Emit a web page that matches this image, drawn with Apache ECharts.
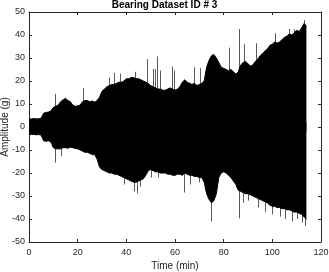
<!DOCTYPE html>
<html><head><meta charset="utf-8">
<script src="https://cdn.jsdelivr.net/npm/echarts@6/dist/echarts.min.js"></script>
<style>html,body{margin:0;padding:0;background:#fff}#c{width:329px;height:272px}</style>
</head><body><div id="c"></div>
<script>
// Time (min) of envelope readings
const times = [0,1,2,3,4,5,6,7,8,9,10,11,12,13,14,15,16,17,18,19,20,21,22,23,24,25,26,27,28,29,30,31,32,33,34,35,36,37,38,39,40,41,42,43,44,45,46,47,48,49,50,51,52,53,54,55,56,57,58,59,60,61,62,63,64,65,66,67,68,69,70,71,72,73,74,75,76,77,78,79,80,81,82,83,84,85,86,87,88,89,90,91,92,93,94,95,96,97,98,99,100,101,102,103,104,105,106,107,108,109,110,111,112,113,114];
// Upper envelope of amplitude (g)
const upper = [3.5,3.5,3.7,3.5,3.6,3.8,6,6.3,6.5,7,
  8.5,9,9.5,11,11.8,12.5,11.5,11,9.5,9,
  9.2,9.5,11,11.5,11.5,11,11.3,10.8,11.5,13,
  15.5,16.5,17.5,18,18.5,18.5,19,19.5,19.5,20,
  21,21,21.5,21.5,21,21,20.5,20,19.5,19,
  18,17.5,17,16.5,16.5,16,16,16.5,17,16.5,
  16,16.5,17.5,19.5,20.5,19.5,19,18.5,19,18,
  18.5,19,20,26,29,31,31.5,30,28,26,
  25.5,25,24.5,25,24,23,24,27,28,28.5,
  27.5,26.5,27,28.5,29.5,31,32,33,34,35.5,
  36,37,36.5,37,38,39,39.5,40.5,40,41,
  42,41.5,43,45,44];
// Lower envelope of amplitude (g)
const lower = [-3.2,-3.3,-3.2,-3.4,-3.3,-3.5,-6,-6.2,-6,-6.5,
  -9,-9.5,-9.5,-9.5,-9,-9,-9.2,-8.8,-9,-9.3,
  -9.5,-10,-10.5,-11,-11,-11.5,-12,-12,-14,-17.5,
  -18.5,-19,-19.5,-20,-20,-20.5,-20.5,-21,-21.5,-22,
  -22.5,-23,-23.5,-24,-24,-23.5,-23,-22.5,-21,-19,
  -18.5,-19,-19.5,-19.5,-20,-20,-20,-20.5,-20.5,-21,
  -21,-20.5,-20.5,-21,-20,-20.5,-21,-21,-21.5,-21.5,
  -22,-22,-24,-29,-31.5,-33,-32,-29,-22,-20,
  -19.5,-20,-21,-22,-23.5,-25,-27.5,-28,-28.5,-29,
  -29,-29.5,-30,-30.5,-31,-31.5,-32,-32.5,-33,-34,
  -34.5,-34.5,-35,-35,-35.5,-35.5,-36,-36,-36.5,-37,
  -37,-37.5,-38,-39,-40];
// Isolated peaks above the envelope
const upSpikeT = [10.5,22,33,35,37.3,43.5,48.6,51,51.9,52.8,54,58.6,59.5,67.9,70.2,82.1,86.2,88.5,93.4,101,107,109,113];
const upSpikeV = [14.4,17,21.5,23.5,23.2,24,29.5,25.2,25.2,30.7,24.6,26.3,24.6,26,25.6,34.5,42.6,36,36.4,40.8,42.6,42.5,46.5];
// Isolated peaks below the envelope
const loSpikeT = [10.5,13,39,43,44.2,45.5,50,53,63.8,66,70,74.9,86.3,88,90,94,97,100,103,105,108,110,112,113.3];
const loSpikeV = [-15.5,-12.6,-25,-28,-28.9,-26,-22,-22,-28.5,-25,-24,-41,-39.7,-33,-32,-35,-37,-38,-39,-40,-41,-40,-41.5,-43];
// Axis ticks
const xTicks = [0,20,40,60,80,100,120];
const yTicks = [-50,-40,-30,-20,-10,0,10,20,30,40,50];

const upData = times.map((t,i)=>[t, upper[i]]);
const loData = times.map((t,i)=>[t, lower[i]]);
const spikes = upSpikeT.map((t,i)=>[t, upSpikeV[i]]).concat(loSpikeT.map((t,i)=>[t, loSpikeV[i]]));

const axCol = '#262626';
const font = 'Liberation Sans, Arial, Helvetica, sans-serif';
const baseAxis = {
  axisLine:{show:true, onZero:false, lineStyle:{color:axCol, width:1}},
  axisTick:{show:true, inside:true, length:3, lineStyle:{color:axCol}},
  splitLine:{show:false}
};
const chart = echarts.init(document.getElementById('c'), null, {renderer:'canvas'});
chart.setOption({
  animation:false,
  backgroundColor:'#ffffff',
  title:{text:'Bearing Dataset ID # 3', left:'center', top:0, padding:0,
    textStyle:{fontFamily:font, fontSize:10, fontWeight:'bold', color:'#000'}},
  grid:{left:29, right:8, top:12, bottom:30, containLabel:false, outerBoundsMode:'none'},
  xAxis:[
    Object.assign({type:'value', min:xTicks[0], max:xTicks[xTicks.length-1], interval:20, position:'bottom',
      name:'Time (min)', nameLocation:'middle', nameGap:19, nameMoveOverlap:false,
      nameTextStyle:{fontFamily:font, fontSize:10, color:axCol},
      axisLabel:{fontFamily:font, fontSize:9, color:axCol, margin:6}}, baseAxis),
    Object.assign({type:'value', min:xTicks[0], max:xTicks[xTicks.length-1], interval:20, position:'top',
      axisLabel:{show:false}}, baseAxis)
  ],
  yAxis:[
    Object.assign({type:'value', min:yTicks[0], max:yTicks[yTicks.length-1], interval:10, position:'left',
      name:'Amplitude (g)', nameLocation:'middle', nameGap:19, nameMoveOverlap:false,
      nameTextStyle:{fontFamily:font, fontSize:10, color:axCol},
      axisLabel:{fontFamily:font, fontSize:9, color:axCol, margin:4}}, baseAxis),
    Object.assign({type:'value', min:yTicks[0], max:yTicks[yTicks.length-1], interval:10, position:'right',
      axisLabel:{show:false}}, baseAxis)
  ],
  series:[
    {type:'custom', z:1, data:spikes, encode:{x:0,y:1},
      renderItem:function(params, api){
        const p0 = api.coord([api.value(0), 0]);
        const p1 = api.coord([api.value(0), api.value(1)]);
        const x = Math.round(p0[0]) + 0.5;
        return {type:'line', shape:{x1:x, y1:p0[1], x2:x, y2:p1[1]},
          style:{stroke:'#5a5a5a', lineWidth:1}};
      }},
    {type:'line', z:2, data:upData, symbol:'none', showSymbol:false,
      lineStyle:{color:'#000', width:1}, areaStyle:{color:'#000', opacity:1, origin:-2}},
    {type:'line', z:2, data:loData, symbol:'none', showSymbol:false,
      lineStyle:{color:'#000', width:1}, areaStyle:{color:'#000', opacity:1, origin:2}}
  ]
});
</script></body></html>
